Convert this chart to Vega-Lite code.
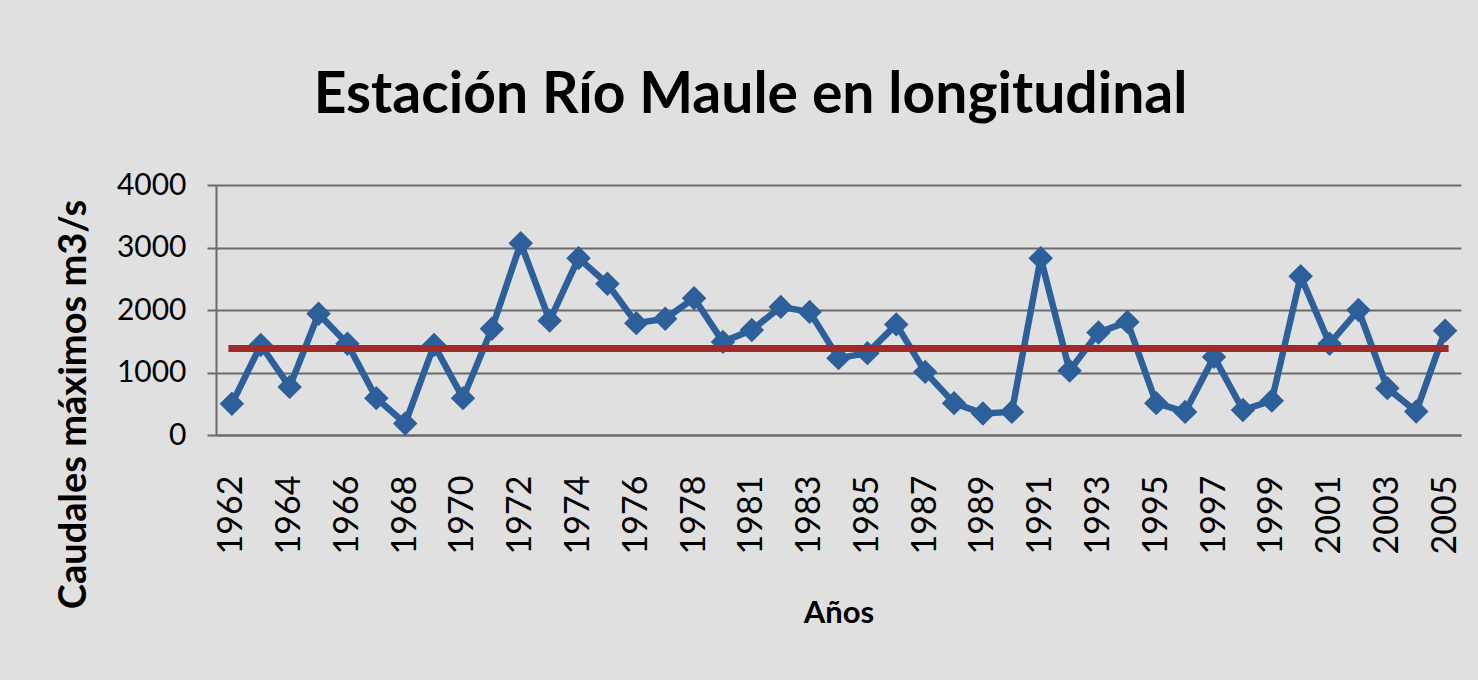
{
  "$schema": "https://vega.github.io/schema/vega-lite/v6.json",
  "width": 1245,
  "height": 250,
  "autosize": {"type": "none"},
  "padding": {"left": 216, "top": 185, "right": 17, "bottom": 245},
  "background": "#e0e0e0",
  "config": {"view": {"stroke": null}, "font": "Lato"},
  "title": {
    "text": "Estación Río Maule en longitudinal",
    "font": "Lato",
    "fontSize": 57,
    "fontWeight": "bold",
    "color": "#000000",
    "anchor": "middle",
    "frame": "group",
    "dx": -88,
    "offset": 0,
    "baseline": "alphabetic"
  },
  "data": {
    "values": [
      {"anio": "1962", "caudal": 500},
      {"anio": "1963", "caudal": 1440},
      {"anio": "1964", "caudal": 770},
      {"anio": "1965", "caudal": 1940},
      {"anio": "1966", "caudal": 1460},
      {"anio": "1967", "caudal": 590},
      {"anio": "1968", "caudal": 185},
      {"anio": "1969", "caudal": 1440},
      {"anio": "1970", "caudal": 590},
      {"anio": "1971", "caudal": 1700},
      {"anio": "1972", "caudal": 3070},
      {"anio": "1973", "caudal": 1830},
      {"anio": "1974", "caudal": 2830},
      {"anio": "1975", "caudal": 2420},
      {"anio": "1976", "caudal": 1790},
      {"anio": "1977", "caudal": 1860},
      {"anio": "1978", "caudal": 2190},
      {"anio": "1979", "caudal": 1490},
      {"anio": "1981", "caudal": 1680},
      {"anio": "1982", "caudal": 2050},
      {"anio": "1983", "caudal": 1970},
      {"anio": "1984", "caudal": 1230},
      {"anio": "1985", "caudal": 1310},
      {"anio": "1986", "caudal": 1770},
      {"anio": "1987", "caudal": 1010},
      {"anio": "1988", "caudal": 510},
      {"anio": "1989", "caudal": 345},
      {"anio": "1990", "caudal": 370},
      {"anio": "1991", "caudal": 2830},
      {"anio": "1992", "caudal": 1030},
      {"anio": "1993", "caudal": 1640},
      {"anio": "1994", "caudal": 1810},
      {"anio": "1995", "caudal": 510},
      {"anio": "1996", "caudal": 370},
      {"anio": "1997", "caudal": 1250},
      {"anio": "1998", "caudal": 400},
      {"anio": "1999", "caudal": 550},
      {"anio": "2000", "caudal": 2540},
      {"anio": "2001", "caudal": 1460},
      {"anio": "2002", "caudal": 2000},
      {"anio": "2003", "caudal": 750},
      {"anio": "2004", "caudal": 375},
      {"anio": "2005", "caudal": 1670}
    ]
  },
  "encoding": {
    "x": {
      "field": "anio",
      "type": "ordinal",
      "sort": null,
      "scale": {"type": "point", "padding": 0.55},
      "axis": {
        "values": ["1962", "1964", "1966", "1968", "1970", "1972", "1974", "1976", "1978", "1981", "1983", "1985", "1987", "1989", "1991", "1993", "1995", "1997", "1999", "2001", "2003", "2005"],
        "title": "Años",
        "labelAngle": -90,
        "ticks": false,
        "grid": false,
        "domainColor": "#6b6b6b",
        "domainWidth": 2,
        "labelFont": "Lato",
        "labelFontSize": 34,
        "labelColor": "#000000",
        "labelPadding": 40,
        "titleFont": "Lato",
        "titleFontSize": 31,
        "titleFontWeight": "bold",
        "titleColor": "#000000",
        "titlePadding": 45
      }
    },
    "y": {
      "field": "caudal",
      "type": "quantitative",
      "title": "Caudales máximos m3/s",
      "scale": {"domain": [0, 4000], "nice": false},
      "axis": {
        "values": [0, 1000, 2000, 3000, 4000],
        "format": "d",
        "grid": true,
        "gridColor": "#6b6b6b",
        "gridWidth": 2,
        "domainColor": "#6b6b6b",
        "domainWidth": 2,
        "tickColor": "#6b6b6b",
        "tickWidth": 2,
        "tickSize": 9,
        "labelFont": "Lato",
        "labelFontSize": 30,
        "labelColor": "#000000",
        "labelPadding": 21,
        "titleFont": "Lato",
        "titleFontSize": 38,
        "titleFontWeight": "bold",
        "titleColor": "#000000",
        "titleAngle": -90,
        "titleAlign": "center",
        "titleBaseline": "alphabetic",
        "titleX": -131,
        "titleY": 219
      }
    }
  },
  "layer": [
    {
      "mark": {"type": "line", "color": "#2d5f9a", "strokeWidth": 6.5, "strokeJoin": "round"}
    },
    {
      "mark": {"type": "point", "shape": "diamond", "filled": true, "size": 600, "color": "#2d5f9a", "opacity": 1}
    },
    {
      "transform": [{"joinaggregate": [{"op": "mean", "field": "caudal", "as": "promedio"}]}],
      "mark": {"type": "line", "color": "#9e2a2a", "strokeWidth": 7, "strokeCap": "square"},
      "encoding": {
        "y": {"field": "promedio", "type": "quantitative", "title": "Caudales máximos m3/s"}
      }
    }
  ]
}
